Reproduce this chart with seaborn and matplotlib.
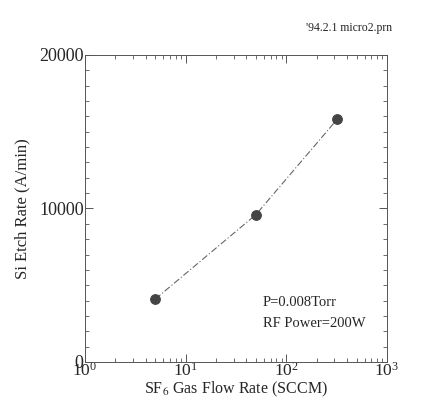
"""
Si etch rate versus SF6 gas flow rate (log scale).
"""
import numpy as np
import pandas as pd
import matplotlib
matplotlib.use("Agg")
from matplotlib import pyplot as plt
from matplotlib.ticker import LogLocator, MultipleLocator, NullFormatter
import seaborn as sns

# Data
flow_sccm = [5, 50, 320]
etch_rate = [4100, 9600, 15800]

y_ticks = [0, 10000, 20000]


def plot(outfile):
    data = pd.DataFrame({"flow": flow_sccm, "rate": etch_rate})

    sns.set_style("ticks")
    plt.rcParams["font.family"] = ["Liberation Serif", "DejaVu Serif"]
    plt.rcParams["mathtext.fontset"] = "stix"

    fig, ax = plt.subplots(
        figsize=(4.27, 3.98),
        dpi=100,
        gridspec_kw=dict(left=0.199, right=0.906, bottom=0.0905, top=0.862),
    )

    sns.lineplot(
        data=data,
        x="flow",
        y="rate",
        ax=ax,
        color="#666666",
        lw=0.8,
        linestyle=(0, (6, 2, 1, 2)),
        marker="o",
        markersize=7,
        markerfacecolor="#444444",
        markeredgecolor="#444444",
    )

    # Format
    ax.set_xscale("log")
    ax.set_xlim(1, 1000)
    ax.set_ylim(0, 20000)
    ax.set_yticks(y_ticks)
    ax.yaxis.set_minor_locator(MultipleLocator(1000))
    ax.xaxis.set_major_locator(LogLocator(base=10, numticks=10))
    ax.xaxis.set_minor_locator(LogLocator(base=10, subs=np.arange(2, 10), numticks=10))
    ax.xaxis.set_minor_formatter(NullFormatter())

    for side in ["top", "right", "left", "bottom"]:
        ax.spines[side].set_visible(True)
        ax.spines[side].set_linewidth(0.7)
        ax.spines[side].set_color("#555555")

    ax.tick_params(which="both", direction="in", top=True, right=True,
                   color="#555555", pad=1)
    ax.tick_params(axis="y", labelsize=13)
    ax.tick_params(axis="x", labelsize=12.5, pad=0)
    ax.tick_params(which="major", length=6, width=0.7)
    ax.tick_params(which="minor", length=3, width=0.6)

    ax.set_xlabel("SF$_6$ Gas Flow Rate (SCCM)", fontsize=11.5, labelpad=0)
    ax.set_ylabel("Si Etch Rate (A/min)", fontsize=12, labelpad=6)

    # Conditions
    ax.text(0.59, 0.195, "P=0.008Torr", transform=ax.transAxes,
            ha="left", va="center", fontsize=10.5)
    ax.text(0.59, 0.125, "RF Power=200W", transform=ax.transAxes,
            ha="left", va="center", fontsize=10.5)

    # File tag
    fig.text(0.918, 0.93, "'94.2.1 micro2.prn", ha="right", va="center", fontsize=8.5)

    plt.savefig(outfile, dpi=100)


plot("out.png")
